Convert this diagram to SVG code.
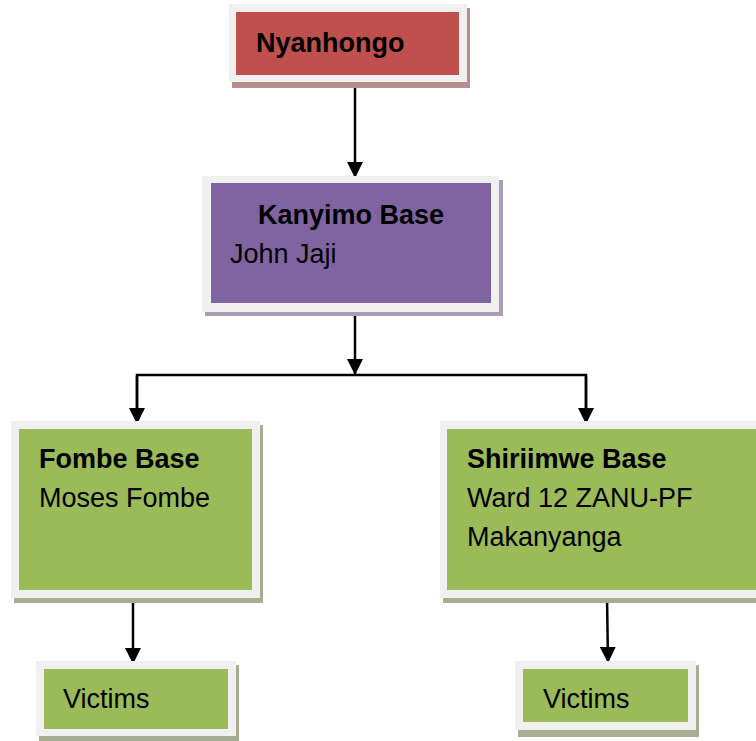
<svg xmlns="http://www.w3.org/2000/svg" width="756" height="741" viewBox="0 0 756 741">
<defs>
<style>
.frame{fill:#f0f0f0;}
.t{font-family:"Liberation Sans",Arial,sans-serif;font-size:27px;fill:#000;}
.b{font-weight:bold;}
.c{stroke:#000;stroke-width:2.5;fill:none;}
</style>
<marker id="ah" markerWidth="16" markerHeight="16" viewBox="0 0 16 16" refX="16" refY="8" orient="auto" markerUnits="userSpaceOnUse">
<path d="M0,0 L16,8 L0,16 Z" fill="#000"/>
</marker>
</defs>
<rect width="756" height="741" fill="#fff"/>
<g id="connectors">
<line class="c" x1="355" y1="79" x2="355" y2="178" marker-end="url(#ah)"/>
<line class="c" x1="355" y1="307" x2="355" y2="375" marker-end="url(#ah)"/>
<polyline class="c" points="137,422 137,375 586,375 586,422"/>
<line class="c" x1="137" y1="376" x2="137" y2="424" marker-end="url(#ah)"/>
<line class="c" x1="586" y1="376" x2="586" y2="424" marker-end="url(#ah)"/>
<line class="c" x1="133" y1="596" x2="133" y2="664" marker-end="url(#ah)"/>
<line class="c" x1="607" y1="596" x2="608" y2="663" marker-end="url(#ah)"/>
</g>
<g id="node-nyanhongo">
<rect x="232" y="8" width="238" height="80" fill="#b88c8c"/>
<rect class="frame" x="229" y="4" width="238" height="78"/>
<rect x="236" y="12" width="223" height="63" fill="#c0504d"/>
<text class="t b" x="256" y="52">Nyanhongo</text>
</g>
<g id="node-kanyimo">
<rect x="205" y="180" width="298" height="136" fill="#a89cb6"/>
<rect class="frame" x="202" y="176" width="297" height="136"/>
<rect x="211" y="183" width="280" height="120" fill="#8064a2"/>
<text class="t b" x="258" y="224">Kanyimo Base</text>
<text class="t" x="230" y="263">John Jaji</text>
</g>
<g id="node-fombe">
<rect x="14" y="425" width="249" height="178" fill="#a6ad90"/>
<rect class="frame" x="11" y="421" width="249" height="177"/>
<rect x="19" y="429" width="233" height="161" fill="#9bbb59"/>
<text class="t b" x="39" y="468">Fombe Base</text>
<text class="t" x="39" y="507">Moses Fombe</text>
</g>
<g id="node-shiriimwe">
<rect x="443" y="425" width="330" height="178" fill="#a6ad90"/>
<rect class="frame" x="440" y="421" width="330" height="177"/>
<rect x="447" y="429" width="320" height="161" fill="#9bbb59"/>
<text class="t b" x="467" y="468">Shiriimwe Base</text>
<text class="t" x="467" y="507">Ward 12 ZANU-PF</text>
<text class="t" x="467" y="546">Makanyanga</text>
</g>
<g id="node-victims-left">
<rect x="39" y="665" width="200" height="76" fill="#a6ad90"/>
<rect class="frame" x="36" y="661" width="200" height="75"/>
<rect x="44" y="669" width="184" height="60" fill="#9bbb59"/>
<text class="t" x="63" y="708">Victims</text>
</g>
<g id="node-victims-right">
<rect x="518" y="665" width="181" height="72" fill="#a6ad90"/>
<rect class="frame" x="515" y="661" width="181" height="69"/>
<rect x="523" y="669" width="165" height="53" fill="#9bbb59"/>
<text class="t" x="543" y="708">Victims</text>
</g>
</svg>
